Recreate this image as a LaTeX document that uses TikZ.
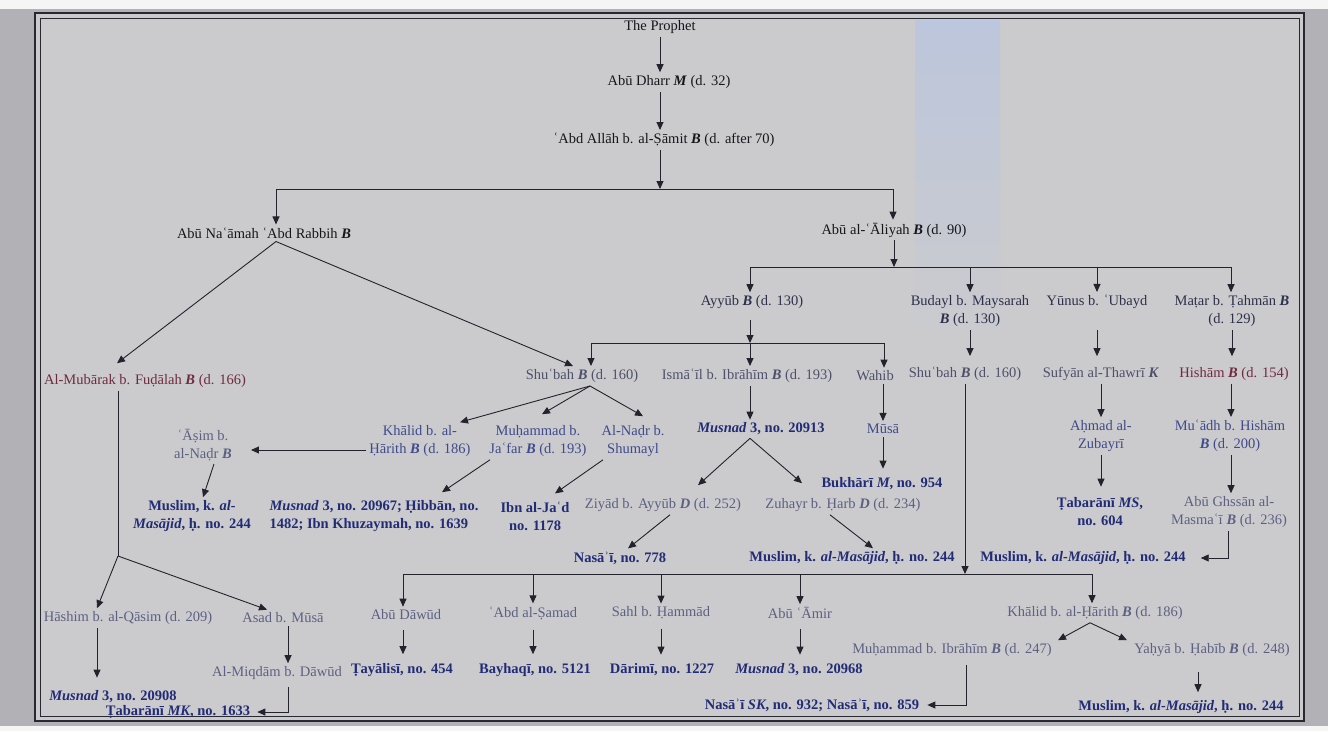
\documentclass[tikz,border=0pt]{standalone}
\usepackage{fontspec}
\setmainfont{Liberation Serif}
\usetikzlibrary{arrows.meta}

\definecolor{outside}{RGB}{178,178,182}
\definecolor{paper}{RGB}{203,203,205}
\definecolor{blueband}{RGB}{188,198,220}
\definecolor{framecol}{RGB}{40,40,48}
\definecolor{linecol}{RGB}{35,35,45}
\definecolor{txtblack}{RGB}{22,22,28}
\definecolor{txtdark}{RGB}{45,48,75}
\definecolor{txtgray}{RGB}{78,80,105}
\definecolor{txtred}{RGB}{112,42,62}
\definecolor{txtblue}{RGB}{62,74,140}
\definecolor{txtpale}{RGB}{92,96,130}
\definecolor{refblue}{RGB}{34,44,118}

\newcommand{\bi}[1]{\textbf{\textit{#1}}}

\begin{document}
\begin{tikzpicture}[x=1pt,y=-1pt,
	every node/.style={inner sep=3pt, align=center, font=\fontsize{14.5}{18}\selectfont},
	top/.style={text=txtblack},
	nm/.style={text=txtdark},
	gr/.style={text=txtgray},
	rd/.style={text=txtred},
	bl/.style={text=txtblue},
	pl/.style={text=txtpale},
	ref/.style={text=refblue, font=\fontsize{14.5}{18}\selectfont\bfseries},
	ln/.style={draw=linecol, line width=0.9pt},
	arr/.style={ln, -{Triangle[length=8pt,width=7pt]}}]
	% paper and frame
	\fill [outside] (0,0) rectangle (1328,731);
	\fill [white!92!gray] (0,0) rectangle (1328,9);
	\fill [white!92!gray] (0,726) rectangle (1328,731);
	\fill [paper] (35,13) rectangle (1304,721);
	\shade [top color=blueband, bottom color=paper] (915,20) rectangle (1000,340);
	\draw [framecol, line width=2.5pt] (35,13) rectangle (1304,721);
	\draw [framecol, line width=1pt] (40,18) rectangle (1299,716);
	% upper chain
	\node [top] (prophet) at (660,27) {The Prophet};
	\node [top] (abudharr) at (669,82) {Abū Dharr \bi{M} (d. 32)};
	\node [top] (abdallah) at (664,140) {ʿAbd Allāh b. al-Ṣāmit \bi{B} (d. after 70)};
	\node [top] (abunaamah) at (264,233) {Abū Naʿāmah ʿAbd Rabbih \bi{B}};
	\node [top] (abualiyah) at (894,230) {Abū al-ʿĀliyah \bi{B} (d. 90)};
	\draw [arr] (prophet) -- (prophet |- abudharr.north);
	\draw [arr] (prophet |- abudharr.south) -- (prophet |- abdallah.north);
	\coordinate (busA1) at (276,189);
	\coordinate (busA2) at (893,189);
	\draw [arr] (prophet |- abdallah.south) -- (prophet |- busA1);
	\draw [ln] (busA1) -- (busA2);
	\draw [arr] (busA1) -- (busA1 |- abunaamah.north);
	\draw [arr] (busA2) -- (busA2 |- abualiyah.north);
	% students of Abu al-Aliyah
	\node [nm] (ayyub) at (752,302) {Ayyūb \bi{B} (d. 130)};
	\node [nm] (budayl) at (970,311) {Budayl b. Maysarah\\\bi{B} (d. 130)};
	\node [nm] (yunus) at (1097,302) {Yūnus b. ʿUbayd};
	\node [nm] (matar) at (1232,311) {Maṭar b. Ṭahmān \bi{B}\\(d. 129)};
	\coordinate (busB1) at (750,267);
	\coordinate (busB2) at (1231,267);
	\draw [arr] (abualiyah) -- (abualiyah |- busB1);
	\draw [ln] (busB1) -- (busB2);
	\draw [arr] (busB1) -- (busB1 |- ayyub.north);
	\draw [arr] (budayl |- busB1) -- (budayl);
	\draw [arr] (yunus |- busB1) -- (yunus);
	\draw [arr] (busB2) -- (busB2 |- matar.north);
	% third row
	\node [rd] (mubarak) at (145,381) {Al-Mubārak b. Fuḍālah \bi{B} (d. 166)};
	\node [gr] (shubah1) at (582,376) {Shuʿbah \bi{B} (d. 160)};
	\node [gr] (ismail) at (747,376) {Ismāʿīl b. Ibrāhīm \bi{B} (d. 193)};
	\node [gr] (wahib) at (875,376) {Wahib};
	\node [gr] (shubah2) at (965,374) {Shuʿbah \bi{B} (d. 160)};
	\node [gr] (sufyan) at (1101,374) {Sufyān al-Thawrī \bi{K}};
	\node [rd] (hisham) at (1234,374) {Hishām \bi{B} (d. 154)};
	\draw [arr] ([xshift=12pt]abunaamah.south) -- ([xshift=-28pt,yshift=8pt]mubarak.north);
	\draw [arr] ([xshift=12pt]abunaamah.south) -- ([xshift=-9pt]shubah1.north);
	\coordinate (busC1) at (591,343);
	\coordinate (busCm) at (750,343);
	\coordinate (busC2) at (884,343);
	\draw [arr, shorten <=8pt] (busCm |- ayyub.south) -- (busCm);
	\draw [ln] (busC1) -- (busC2);
	\draw [arr] (busC1) -- (busC1 |- shubah1.north);
	\draw [arr] (busCm) -- (busCm |- ismail.north);
	\draw [arr] (busC2) -- (busC2 |- wahib.north);
	\draw [arr, shorten >=8pt] (budayl) -- (budayl |- shubah2.north);
	\draw [arr, shorten >=8pt] (yunus |- budayl.south) -- (yunus |- sufyan.north);
	\draw [arr, shorten >=8pt] (matar) -- (matar |- hisham.north);
	% fourth row
	\node [pl] (asim) at (203,445) {ʿĀṣim b.\\al-Naḍr \bi{B}};
	\node [bl] (khalid1) at (420,441) {Khālid b. al-\\Ḥārith \bi{B} (d. 186)};
	\node [bl] (muhammad1) at (538,441) {Muḥammad b.\\Jaʿfar \bi{B} (d. 193)};
	\node [bl] (nadr) at (633,441) {Al-Naḍr b.\\Shumayl};
	\node [ref] (musnad2) at (761,429) {\textit{Musnad} 3, no. 20913};
	\node [bl] (musa) at (883,429) {Mūsā};
	\node [bl] (ahmad) at (1101,436) {Aḥmad al-\\Zubayrī};
	\node [bl] (muadh) at (1230,436) {Muʿādh b. Hishām\\\bi{B} (d. 200)};
	\draw [arr] ([xshift=8pt]shubah1.south) -- ([xshift=40pt]khalid1.north);
	\draw [arr] ([xshift=8pt]shubah1.south) -- ([xshift=4pt,yshift=8pt]muhammad1.north);
	\draw [arr] ([xshift=8pt]shubah1.south) -- ([xshift=10pt,yshift=6pt]nadr.north);
	\coordinate (khalidw) at ([yshift=-9pt]khalid1.west);
	\draw [arr, shorten >=16pt] (khalidw) -- (khalidw -| asim.east);
	\draw [arr] (busCm |- ismail.south) -- (busCm |- musnad2.north);
	\draw [arr] (musa |- wahib.south) -- (musa);
	\draw [arr] (sufyan) -- (sufyan |- ahmad.north);
	\draw [arr] (busB2 |- hisham.south) -- (busB2 |- muadh.north);
	% references and fifth row
	\node [ref] (muslim1) at (192,516) {Muslim, k. \textit{al-}\\\textit{Masājid}, ḥ. no. 244};
	\node [ref, align=left] (musnad1) at (374,516) {\textit{Musnad} 3, no. 20967; Ḥibbān, no.\\1482; Ibn Khuzaymah, no. 1639};
	\node [ref] (ibnjad) at (535,516) {Ibn al-Jaʿd\\no. 1178};
	\node [pl] (ziyad) at (663,505) {Ziyād b. Ayyūb \bi{D} (d. 252)};
	\node [pl] (zuhayr) at (843,505) {Zuhayr b. Ḥarb \bi{D} (d. 234)};
	\node [ref] (bukhari) at (882,484) {Bukhārī \textit{M}, no. 954};
	\node [ref] (tabarani1) at (1100,512) {Ṭabarānī \textit{MS},\\no. 604};
	\node [pl] (abughassan) at (1229,512) {Abū Ghssān al-\\Masmaʿī \bi{B} (d. 236)};
	\draw [arr] ([xshift=11pt]asim.south) -- ([xshift=11pt]muslim1.north);
	\draw [arr] ([xshift=-48pt]muhammad1.south) -- ([xshift=68pt,yshift=5pt]musnad1.north);
	\draw [arr] ([xshift=-30pt]nadr.south) -- ([xshift=20pt,yshift=5pt]ibnjad.north);
	\draw [arr] ([xshift=-11pt]musnad2.south) -- ([xshift=35pt,yshift=10pt]ziyad.north);
	\draw [arr] ([xshift=-11pt]musnad2.south) -- ([xshift=-41pt,yshift=12pt]zuhayr.north);
	\draw [arr, shorten >=6pt] (musa) -- (musa |- bukhari.north);
	\draw [arr, shorten >=8pt] (ahmad) -- (ahmad |- tabarani1.north);
	\draw [arr] (busB2 |- muadh.south) -- (busB2 |- abughassan.north);
	\node [ref] (nasai1) at (620,558) {Nasāʾī, no. 778};
	\node [ref] (muslim2) at (852,558) {Muslim, k. \textit{al-Masājid}, ḥ. no. 244};
	\node [ref] (muslim4) at (1083,558) {Muslim, k. \textit{al-Masājid}, ḥ. no. 244};
	\draw [arr] ([xshift=7pt]ziyad.south) -- ([xshift=8pt]nasai1.north);
	\draw [arr] ([xshift=-13pt]zuhayr.south) -- ([xshift=21pt]muslim2.north);
	\draw [arr, shorten >=12pt] ([xshift=-1pt]abughassan.south) |- (muslim4.east);
	% branch of Shu'bah (second)
	\coordinate (busD1) at (403,574);
	\coordinate (busD2) at (1092,574);
	\node [pl] (abudawud) at (406,615) {Abū Dāwūd};
	\node [pl] (abdsamad) at (533,613) {ʿAbd al-Ṣamad};
	\node [pl] (sahl) at (661,613) {Sahl b. Ḥammād};
	\node [pl] (abuamir) at (800,613) {Abū ʿĀmir};
	\node [pl] (khalid2) at (1095,613) {Khālid b. al-Ḥārith \bi{B} (d. 186)};
	\draw [arr] (shubah2) -- (shubah2 |- busD1);
	\draw [ln] (busD1) -- (busD2);
	\draw [arr] (busD1) -- (busD1 |- abudawud.north);
	\draw [arr] (abdsamad |- busD1) -- (abdsamad);
	\draw [arr] (sahl |- busD1) -- (sahl);
	\draw [arr] (abuamir |- busD1) -- (abuamir);
	\draw [arr] (busD2) -- (busD2 |- khalid2.north);
	\node [ref] (tayalisi) at (402,670) {Ṭayālisī, no. 454};
	\node [ref] (bayhaqi) at (535,670) {Bayhaqī, no. 5121};
	\node [ref] (darimi) at (662,670) {Dārimī, no. 1227};
	\node [ref] (musnad3) at (799,670) {\textit{Musnad} 3, no. 20968};
	\draw [arr, shorten <=7pt, shorten >=6pt] (busD1 |- abudawud.south) -- (busD1 |- tayalisi.north);
	\draw [arr, shorten <=7pt, shorten >=6pt] (abdsamad) -- (abdsamad |- bayhaqi.north);
	\draw [arr, shorten <=7pt, shorten >=6pt] (sahl) -- (sahl |- darimi.north);
	\draw [arr, shorten <=7pt, shorten >=6pt] (abuamir) -- (abuamir |- musnad3.north);
	\node [pl] (muhammad2) at (952,650) {Muḥammad b. Ibrāhīm \bi{B} (d. 247)};
	\node [pl] (yahya) at (1212,650) {Yaḥyā b. Ḥabīb \bi{B} (d. 248)};
	\node [ref] (nasai2) at (812,705) {Nasāʾī \textit{SK}, no. 932; Nasāʾī, no. 859};
	\node [ref] (muslim3) at (1181,707) {Muslim, k. \textit{al-Masājid}, ḥ. no. 244};
	\draw [arr] ([xshift=-5pt]khalid2.south) -- ([xshift=106pt]muhammad2.north);
	\draw [arr] ([xshift=-5pt]khalid2.south) -- ([xshift=-85pt]yahya.north);
	\draw [arr, shorten <=5pt, shorten >=5pt] ([xshift=14pt]muhammad2.south) |- (nasai2.east);
	\draw [arr, shorten <=12pt, shorten >=5pt] ([xshift=-14pt]yahya.south) -- ([xshift=17pt]muslim3.north);
	% branch of al-Mubarak
	\coordinate (split) at (118,556);
	\node [pl] (hashim) at (128,618) {Hāshim b. al-Qāsim (d. 209)};
	\node [pl] (asad) at (283,618) {Asad b. Mūsā};
	\node [pl] (miqdam) at (277,673) {Al-Miqdām b. Dāwūd};
	\node [ref] (musnad4) at (113,697) {\textit{Musnad} 3, no. 20908};
	\node [ref] (tabarani2) at (178,712) {Ṭabarānī \textit{MK}, no. 1633};
	\draw [ln] (split |- mubarak.south) -- (split);
	\draw [arr] (split) -- ([xshift=-31pt]hashim.north);
	\draw [arr] (split) -- ([xshift=-16pt]asad.north);
	\draw [arr, shorten >=10pt] ([xshift=-31pt]hashim.south) -- ([xshift=-16pt]musnad4.north);
	\draw [arr] ([xshift=5pt]asad.south) -- ([xshift=11pt]miqdam.north);
	\draw [arr, shorten <=4pt, shorten >=4pt] ([xshift=11pt]miqdam.south) |- (tabarani2.east);
\end{tikzpicture}
\end{document}
